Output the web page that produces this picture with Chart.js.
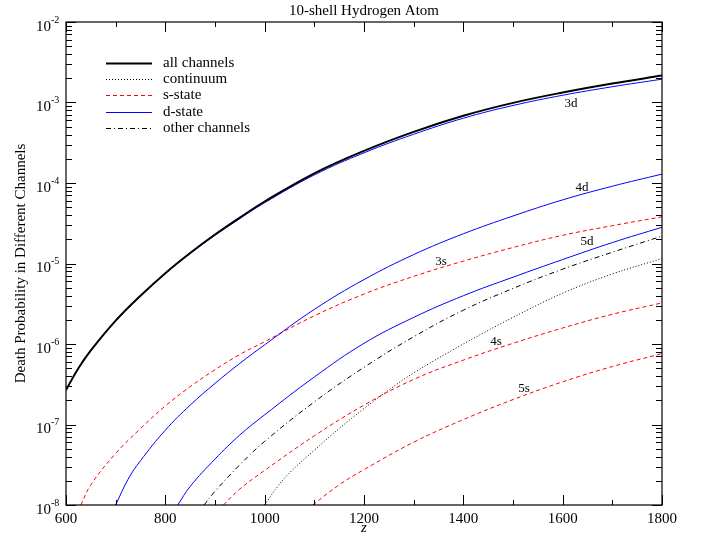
<!DOCTYPE html>
<html>
<head>
<meta charset="utf-8">
<script src="https://cdn.jsdelivr.net/npm/chart.js@4.4.1/dist/chart.umd.min.js"></script>
<style>
  html, body { margin: 0; padding: 0; background: #fff; }
  canvas { display: block; }
</style>
</head>
<body>
<canvas id="chart" width="704" height="535"></canvas>
<script>
// datos (z, probabilidad)
const allZ   = [600, 625, 650, 700, 750, 800, 850, 900, 950, 1000, 1100, 1200, 1300, 1400, 1500, 1600, 1700, 1800];
const allP   = [2.69e-7, 5.01e-7, 8.32e-7, 1.95e-6, 3.98e-6, 7.59e-6, 1.35e-5, 2.29e-5, 3.72e-5, 5.89e-5, 1.32e-4, 2.51e-4, 4.32e-4, 6.84e-4, 9.89e-4, 1.33e-3, 1.72e-3, 2.16e-3];

const d3Z    = [600, 625, 650, 700, 750, 800, 850, 900, 950, 1000, 1100, 1200, 1300, 1400, 1500, 1600, 1700, 1800];
const d3P    = [2.66e-7, 4.95e-7, 8.22e-7, 1.93e-6, 3.94e-6, 7.50e-6, 1.33e-5, 2.24e-5, 3.61e-5, 5.69e-5, 1.26e-4, 2.37e-4, 4.03e-4, 6.38e-4, 9.18e-4, 1.23e-3, 1.57e-3, 1.95e-3];

const d4Z    = [700, 725, 750, 800, 850, 900, 950, 1000, 1100, 1200, 1300, 1400, 1500, 1600, 1700, 1800];
const d4P    = [1.0e-8, 2.09e-8, 3.55e-8, 8.51e-8, 1.74e-7, 3.24e-7, 5.75e-7, 9.77e-7, 2.69e-6, 6.31e-6, 1.29e-5, 2.34e-5, 3.89e-5, 6.17e-5, 9.12e-5, 1.29e-4];

const d5Z    = [825, 850, 900, 950, 1000, 1100, 1200, 1300, 1400, 1500, 1600, 1700, 1800];
const d5P    = [1.0e-8, 1.70e-8, 3.72e-8, 7.41e-8, 1.32e-7, 3.89e-7, 1.02e-6, 2.14e-6, 3.98e-6, 6.76e-6, 1.12e-5, 1.82e-5, 2.82e-5];

const s3Z    = [630, 650, 700, 750, 800, 850, 900, 950, 1000, 1100, 1200, 1300, 1400, 1500, 1600, 1700, 1800];
const s3P    = [1.0e-8, 1.78e-8, 4.37e-8, 8.91e-8, 1.70e-7, 2.95e-7, 4.79e-7, 7.41e-7, 1.07e-6, 2.24e-6, 4.17e-6, 6.92e-6, 1.07e-5, 1.58e-5, 2.24e-5, 2.95e-5, 3.80e-5];

const s4Z    = [917, 950, 1000, 1100, 1200, 1300, 1400, 1500, 1600, 1700, 1800];
const s4P    = [1.0e-8, 1.58e-8, 2.69e-8, 7.24e-8, 1.74e-7, 3.63e-7, 6.31e-7, 1.02e-6, 1.58e-6, 2.34e-6, 3.24e-6];

const s5Z    = [1097, 1150, 1200, 1300, 1400, 1500, 1600, 1700, 1800];
const s5P    = [1.0e-8, 1.78e-8, 2.75e-8, 6.03e-8, 1.15e-7, 2.04e-7, 3.39e-7, 5.25e-7, 7.59e-7];

const otherZ = [878, 900, 950, 1000, 1100, 1200, 1300, 1400, 1500, 1600, 1700, 1800];
const otherP = [1.0e-8, 1.48e-8, 3.16e-8, 6.17e-8, 1.91e-7, 5.13e-7, 1.23e-6, 2.63e-6, 4.90e-6, 8.51e-6, 1.38e-5, 2.19e-5];

const contZ  = [1000, 1025, 1050, 1100, 1150, 1200, 1250, 1300, 1400, 1500, 1600, 1700, 1800];
const contP  = [1.0e-8, 1.66e-8, 2.51e-8, 4.79e-8, 8.91e-8, 1.58e-7, 2.69e-7, 4.37e-7, 1.0e-6, 2.14e-6, 4.27e-6, 7.41e-6, 1.15e-5];

const xTicks = [600, 800, 1000, 1200, 1400, 1600, 1800];
const yDecades = [-8, -7, -6, -5, -4, -3, -2];

const legendNames = ['all channels', 'continuum', 's-state', 'd-state', 'other channels'];
const curveNames = ['3d', '4d', '5d', '3s', '4s', '5s'];

const FONT = '"Liberation Serif", "Times New Roman", serif';
const RED = '#ff0000';
const BLUE = '#0000ff';

function pts(zs, ps) {
    return zs.map((z, i) => ({ x: z, y: ps[i] }));
}

// estilos de linea por canal
const styles = {
    all:   { color: '#000', width: 2, dash: [] },
    cont:  { color: '#000', width: 1, dash: [1, 2] },
    s:     { color: RED, width: 1, dash: [4, 3] },
    d:     { color: BLUE, width: 1, dash: [] },
    other: { color: '#000', width: 1, dash: [5, 3, 1, 3] }
};

function ds(label, zs, ps, st) {
    return {
        label: label,
        data: pts(zs, ps),
        borderColor: st.color,
        borderWidth: st.width,
        borderDash: st.dash,
        pointRadius: 0,
        fill: false,
        tension: 0.4
    };
}

// Plugin: marco, ticks interiores, etiquetas y leyenda
const decorPlugin = {
    id: 'decor',
    afterDraw(chart) {
        const ctx = chart.ctx;
        const a = chart.chartArea;
        const xs = chart.scales.x;
        const ys = chart.scales.y;
        ctx.save();
        ctx.strokeStyle = '#000';
        ctx.fillStyle = '#000';
        ctx.lineWidth = 1.2;
        ctx.setLineDash([]);
        ctx.strokeRect(a.left, a.top, a.right - a.left, a.bottom - a.top);

        // ticks eje y (izq y der)
        ctx.lineWidth = 1;
        yDecades.forEach(e => {
            const base = Math.pow(10, e);
            const py = Math.round(ys.getPixelForValue(base)) + 0.5;
            ctx.beginPath();
            ctx.moveTo(a.left, py); ctx.lineTo(a.left + 10, py);
            ctx.moveTo(a.right, py); ctx.lineTo(a.right - 10, py);
            ctx.stroke();
            if (e < -2) {
                for (let k = 2; k <= 9; k++) {
                    const my = Math.round(ys.getPixelForValue(k * base)) + 0.5;
                    ctx.beginPath();
                    ctx.moveTo(a.left, my); ctx.lineTo(a.left + 6, my);
                    ctx.moveTo(a.right, my); ctx.lineTo(a.right - 6, my);
                    ctx.stroke();
                }
            }
        });

        // ticks eje x (abajo y arriba)
        for (let v = 600; v <= 1800; v += 100) {
            const px = Math.round(xs.getPixelForValue(v)) + 0.5;
            const len = (v % 200 === 0) ? 10 : 5;
            ctx.beginPath();
            ctx.moveTo(px, a.bottom); ctx.lineTo(px, a.bottom - len);
            ctx.moveTo(px, a.top); ctx.lineTo(px, a.top + len);
            ctx.stroke();
        }

        // etiquetas eje y: 10^n
        yDecades.forEach(e => {
            const py = ys.getPixelForValue(Math.pow(10, e));
            ctx.font = '15px ' + FONT;
            ctx.textAlign = 'right';
            ctx.textBaseline = 'middle';
            ctx.fillText('10', a.left - 15, py + 5);
            ctx.font = '10px ' + FONT;
            ctx.textAlign = 'left';
            ctx.fillText(String(e), a.left - 15, py - 2);
        });

        // titulo
        ctx.font = '15px ' + FONT;
        ctx.textAlign = 'center';
        ctx.textBaseline = 'middle';
        ctx.fillText('10-shell Hydrogen Atom', (a.left + a.right) / 2, 11);

        // titulo eje x
        ctx.font = 'italic 15px ' + FONT;
        ctx.fillText('z', (a.left + a.right) / 2, 528);

        // titulo eje y
        ctx.save();
        ctx.translate(21, (a.top + a.bottom) / 2);
        ctx.rotate(-Math.PI / 2);
        ctx.font = '15px ' + FONT;
        ctx.fillText('Death Probability in Different Channels', 0, 0);
        ctx.restore();

        // leyenda
        const legStyles = [styles.all, styles.cont, styles.s, styles.d, styles.other];
        legendNames.forEach((name, i) => {
            const y = 63 + i * 16.2;
            const st = legStyles[i];
            ctx.beginPath();
            ctx.strokeStyle = st.color;
            ctx.lineWidth = st.width;
            ctx.setLineDash(st.dash);
            ctx.moveTo(106, Math.round(y) + 0.5);
            ctx.lineTo(152, Math.round(y) + 0.5);
            ctx.stroke();
            ctx.setLineDash([]);
            ctx.fillStyle = '#000';
            ctx.font = '15px ' + FONT;
            ctx.textAlign = 'left';
            ctx.textBaseline = 'middle';
            ctx.fillText(name, 163, y);
        });

        // etiquetas de curvas (posicion en coordenadas de datos)
        const anchors = [[1617, 9.57e-4], [1639, 8.67e-5], [1649, 1.85e-5], [1355, 1.07e-5], [1466, 1.06e-6], [1522, 2.76e-7]];
        ctx.font = '13px ' + FONT;
        ctx.textAlign = 'center';
        ctx.textBaseline = 'middle';
        curveNames.forEach((n, i) => {
            ctx.fillText(n, xs.getPixelForValue(anchors[i][0]), ys.getPixelForValue(anchors[i][1]));
        });
        ctx.restore();
    }
};

new Chart(document.getElementById('chart'), {
    type: 'line',
    data: {
        datasets: [
            ds('all channels', allZ, allP, styles.all),
            ds('3d', d3Z, d3P, styles.d),
            ds('4d', d4Z, d4P, styles.d),
            ds('5d', d5Z, d5P, styles.d),
            ds('3s', s3Z, s3P, styles.s),
            ds('4s', s4Z, s4P, styles.s),
            ds('5s', s5Z, s5P, styles.s),
            ds('other channels', otherZ, otherP, styles.other),
            ds('continuum', contZ, contP, styles.cont)
        ]
    },
    options: {
        responsive: false,
        animation: false,
        layout: { padding: { top: 22, right: 42, left: 0, bottom: 0 } },
        plugins: {
            legend: { display: false },
            title: { display: false },
            tooltip: { enabled: false }
        },
        scales: {
            x: {
                type: 'linear',
                min: 600,
                max: 1800,
                afterBuildTicks: s => { s.ticks = xTicks.map(v => ({ value: v })); },
                ticks: {
                    color: '#000',
                    font: { family: FONT, size: 15 },
                    padding: 5,
                    maxRotation: 0,
                    autoSkip: false,
                    callback: v => String(v)
                },
                grid: { display: false, drawTicks: false },
                border: { display: false },
                afterFit: s => { s.height = 30; }
            },
            y: {
                type: 'logarithmic',
                min: 1e-8,
                max: 1e-2,
                ticks: { display: false },
                grid: { display: false, drawTicks: false },
                border: { display: false },
                afterFit: s => { s.width = 66; }
            }
        }
    },
    plugins: [decorPlugin]
});
</script>
</body>
</html>
